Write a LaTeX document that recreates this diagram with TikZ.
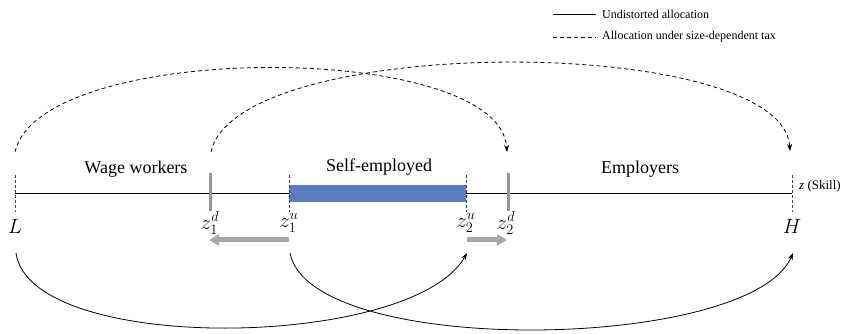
\documentclass[tikz,border=0pt]{standalone}
\usepackage{fontspec}
\setmainfont{Liberation Serif}
\usetikzlibrary{arrows.meta}
\DeclareMathSizes{18}{20}{15}{12}
\definecolor{barblue}{RGB}{91,125,190}
\definecolor{tickgray}{RGB}{150,150,150}
\definecolor{arrgray}{RGB}{168,168,168}
\begin{document}
\begin{tikzpicture}[x=1pt,y=-1pt,
  lbl/.style={font=\fontsize{18}{20}\selectfont, inner sep=0pt},
  leg/.style={font=\fontsize{12}{14}\selectfont, inner sep=0pt, anchor=west},
  skill/.style={font=\fontsize{13}{15}\selectfont, inner sep=0pt, anchor=west},
  dtick/.style={draw=black!75, dash pattern=on 3pt off 2pt, line width=0.8pt},
  gtick/.style={draw=tickgray, line width=3pt},
  flow/.style={line width=0.8pt, -{Stealth[length=7pt,width=5pt]}},
  tax/.style={flow, dash pattern=on 4pt off 3pt},
  shiftarrow/.style={draw=arrgray, line width=5pt, -{Triangle[length=10pt,width=11pt]}},
]
\useasboundingbox (0,0) rectangle (847,334);

% legend
\coordinate (lsA) at (553,14); \coordinate (lsB) at (596,14);
\coordinate (ldA) at (553,37); \coordinate (ldB) at (596,37);
\draw[line width=0.8pt] (lsA) -- (lsB);
\draw[line width=0.8pt, dash pattern=on 4pt off 3pt] (ldA) -- (ldB);
\node[leg] (leg1) at (602,14) {Undistorted allocation};
\node[leg] (leg2) at (602,37) {Allocation under size-dependent tax};

% axis
\coordinate (axL) at (15,193); \coordinate (axH) at (792,193);
\draw[line width=0.8pt] (axL) -- (axH);
\fill[barblue] (289,185) rectangle (466,202);

% ticks
\draw[dtick] (15,175) -- (15,212);
\draw[gtick] (210,173) -- (210,211);
\draw[dtick] (289,175) -- (289,212);
\draw[dtick] (466,175) -- (466,212);
\draw[gtick] (508,173) -- (508,211);
\draw[dtick] (792,175) -- (792,212);

% region labels
\node[lbl] (ww) at (136,169) {Wage workers};
\node[lbl] (se) at (379,167) {Self-employed};
\node[lbl] (em) at (640,169) {Employers};
\node[skill] (sk) at (799,186) {\textit{z} (Skill)};

% point labels
\node[lbl] (L) at (15,226) {$L$};
\node[lbl] (z1d) at (210,223) {$z_1^d$};
\node[lbl] (z1u) at (289,223) {$z_1^u$};
\node[lbl] (z2u) at (466,223) {$z_2^u$};
\node[lbl] (z2d) at (506,223) {$z_2^d$};
\node[lbl] (H) at (792,226) {$H$};

% gray shift arrows
\coordinate (g1s) at (289,240); \coordinate (g1e) at (209,240);
\coordinate (g2s) at (467,240); \coordinate (g2e) at (507,240);
\draw[shiftarrow] (g1s) -- (g1e);
\draw[shiftarrow] (g2s) -- (g2e);

% dashed (tax) arcs
\coordinate (Ltop) at (15,152);
\coordinate (z1dtop) at (211,152);
\coordinate (z2dtop) at (507,152);
\coordinate (Htop) at (790,151);
\draw[tax] (Ltop) .. controls (40,40) and (500,40) .. (z2dtop);
\draw[tax] (z1dtop) .. controls (236,33) and (783,33) .. (Htop);

% solid (undistorted) arcs
\coordinate (Lbot) at (16,253);
\coordinate (z2ubot) at (467,253);
\coordinate (z1ubot) at (290,253);
\coordinate (Hbot) at (793,253);
\draw[flow] (Lbot) .. controls (30,355) and (412,350) .. (z2ubot);
\draw[flow] (z1ubot) .. controls (310,358) and (750,352) .. (Hbot);
\end{tikzpicture}
\end{document}
